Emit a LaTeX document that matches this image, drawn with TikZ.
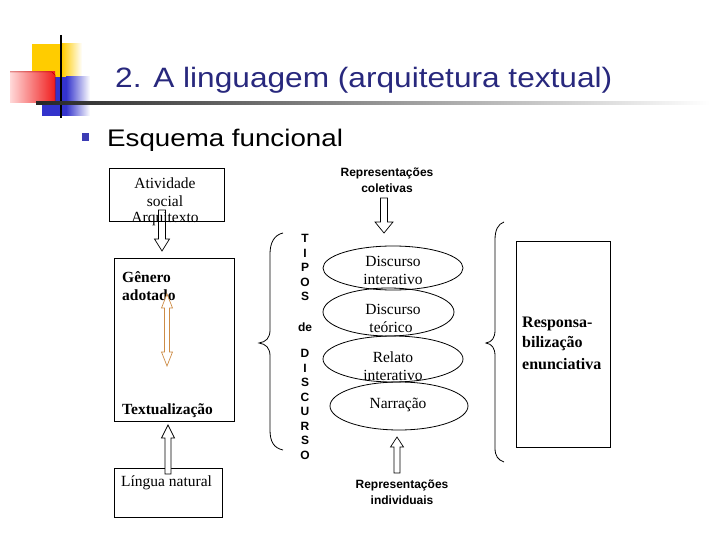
\documentclass[tikz,border=0pt]{standalone}
\usepackage{fontspec}
\setmainfont{Liberation Serif}
\setsansfont{Liberation Sans}
\usepackage{graphicx}
\usetikzlibrary{shapes.geometric}
\definecolor{titleblue}{RGB}{40,40,125}
\definecolor{bulletblue}{RGB}{60,60,180}
\definecolor{logoyellow}{RGB}{255,204,0}
\definecolor{logoblue}{RGB}{51,51,204}
\definecolor{logored}{RGB}{240,30,30}
\definecolor{arrowor}{RGB}{205,140,70}
\begin{document}
\begin{tikzpicture}[x=1pt,y=-1pt,
  box/.style={draw=black,line width=0.8pt},
  blk/.style={draw=black,fill=white,line width=0.7pt,line join=miter},
  oval/.style={draw=black,line width=0.8pt,ellipse,inner sep=0pt},
  serif/.style={inner sep=0pt,font=\rmfamily\fontsize{15.5}{18}\selectfont},
  serifb/.style={inner sep=0pt,font=\rmfamily\bfseries\fontsize{15.5}{18}\selectfont},
  sansb/.style={inner sep=0pt,font=\sffamily\bfseries\fontsize{12}{14}\selectfont},
  brace/.style={draw=black,line width=0.8pt}]
\useasboundingbox (0,0) rectangle (720,540);
\fill[white] (0,0) rectangle (720,540);

% logo
\fill[logoyellow] (32,44) rectangle (62,77);
\shade[left color=logoyellow,right color=white] (62,44) rectangle (82,77);
\fill[logoblue] (42,77) rectangle (66,116);
\shade[left color=logoblue,right color=white] (66,77) rectangle (90,116);
\shade[left color=red!15,right color=logored] (10,72) rectangle (55,103);
\draw[red!70!black,line width=0.5pt] (10,72) -- (52,72) -- (55,75) -- (55,103);
\draw[black,line width=2pt] (61,35) -- (61,118);
\shade[left color=black!85,right color=white] (36,101.5) rectangle (710,104.5);

% title
\node[inner sep=0pt,anchor=base west,text=titleblue,font=\sffamily\fontsize{28}{32}\selectfont] (title) at (115,88) {\scalebox{1.13}[1]{2. A linguagem (arquitetura textual)}};
\fill[bulletblue] (82,133) rectangle (89,141);
\node[inner sep=0pt,anchor=base west,font=\sffamily\fontsize{24}{28}\selectfont] (esq) at (107,147) {\scalebox{1.155}[1]{Esquema funcional}};

% left column
\draw[box] (109,168) rectangle (224,221);
\draw[draw=black,line width=0.7pt,line join=miter] (158.5,210) -- (165.5,210) -- (165.5,239) -- (169.5,239) -- (162,251) -- (154.5,239) -- (158.5,239) -- cycle;
\node[serif] (atv) at (165,183) {Atividade};
\node[serif] (soc) at (165,201) {social};
\node[serif] (arq) at (165,219) {Arquitexto};

\draw[box] (114,258) rectangle (234,421);
\node[serifb,anchor=west] (gen) at (122,277) {Gênero};
\node[serifb,anchor=west] (ado) at (122,295) {adotado};
\node[serifb,anchor=west] (txt) at (122,411) {Textualização};
\draw[draw=arrowor,fill=white,line width=0.7pt] (167,294) -- (172.5,308) -- (169.5,308) -- (169.5,352) -- (172.5,352) -- (167,366) -- (161.5,352) -- (164.5,352) -- (164.5,308) -- (161.5,308) -- cycle;

\draw[box] (114,468) rectangle (222,517);
\node[serif,anchor=west] (lin) at (121,483) {Língua natural};
\draw[blk] (168,425) -- (174.5,438) -- (171,438) -- (171,474) -- (165,474) -- (165,438) -- (161.5,438) -- cycle;

% middle
\node[sansb] (rc1) at (387,173) {Representações};
\node[sansb] (rc2) at (387,188) {coletivas};
\draw[blk] (380.5,198) -- (387.5,198) -- (387.5,222) -- (393,222) -- (384,233) -- (375,222) -- (380.5,222) -- cycle;

\node[oval,minimum width=140pt,minimum height=44pt] (e1) at (393,268) {};
\node[oval,minimum width=131pt,minimum height=48pt] (e2) at (388.5,312) {};
\node[oval,minimum width=140pt,minimum height=46pt] (e3) at (393,359) {};
\node[oval,minimum width=138pt,minimum height=48pt] (e4) at (399,406) {};
\node[serif] (d1a) at (393,261) {Discurso};
\node[serif] (d1b) at (393,279) {interativo};
\node[serif] (d2a) at (393,309) {Discurso};
\node[serif] (d2b) at (391,327) {teórico};
\node[serif] (d3a) at (393,357) {Relato};
\node[serif] (d3b) at (393,375) {interativo};
\node[serif] (d4a) at (398,405) {Narração};

\draw[blk] (397,437) -- (403.5,447) -- (400,447) -- (400,473) -- (394,473) -- (394,447) -- (390.5,447) -- cycle;
\node[sansb] (ri1) at (402,485) {Representações};
\node[sansb] (ri2) at (402,500) {individuais};

% TIPOS de DISCURSO
\foreach \c/\yy/\nm in {T/238/ta,I/253/tb,P/267/tc,O/282/td,S/296/te,D/353/da,I/368/db,S/382/dc,C/397/dd,U/411/de,R/426/df,S/440/dg,O/455/dh}
  \node[sansb] (\nm) at (305,\yy) {\c};
\node[sansb] (dword) at (305,327) {de};

% left brace
\draw[brace] (283,233) .. controls (274,235) and (270,243) .. (270,254) -- (270,330)
  .. controls (270,338) and (266,342) .. (259,343)
  .. controls (266,344) and (270,348) .. (270,356) -- (270,430)
  .. controls (270,442) and (274,448) .. (283,450);

% right brace
\draw[brace] (504,222) .. controls (498,224) and (495,230) .. (495,240) -- (495,330)
  .. controls (495,338) and (492,342) .. (486,343)
  .. controls (492,344) and (495,348) .. (495,356) -- (495,448)
  .. controls (495,456) and (498,460) .. (504,462);

% right box
\draw[box] (516,241) rectangle (610,447);
\node[serifb,anchor=west,font=\rmfamily\bfseries\fontsize{16}{18}\selectfont] (rs1) at (522,324) {Responsa-};
\node[serifb,anchor=west,font=\rmfamily\bfseries\fontsize{16}{18}\selectfont] (rs2) at (522,344) {bilização};
\node[serifb,anchor=west,font=\rmfamily\bfseries\fontsize{16}{18}\selectfont] (rs3) at (522,364) {enunciativa};
\end{tikzpicture}
\end{document}
